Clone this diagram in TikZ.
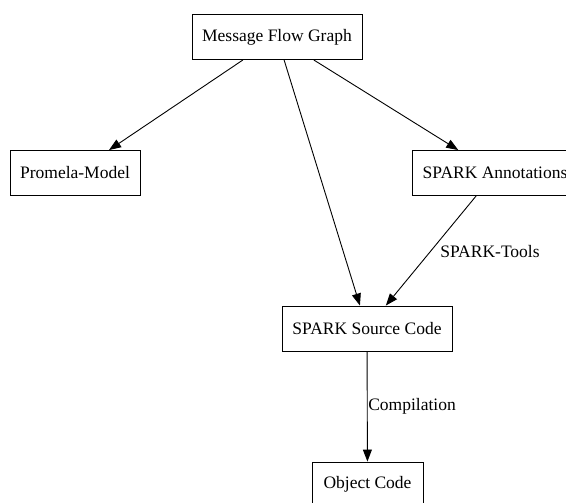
\documentclass[tikz,border=0pt]{standalone}
\usepackage{fontspec}
\setmainfont{Liberation Serif}
\usetikzlibrary{arrows.meta}
\begin{document}
\begin{tikzpicture}[x=1pt,y=-1pt,
  box/.style={draw,line width=0.9pt,inner sep=0pt,minimum height=45pt,font=\fontsize{17.5}{21}\selectfont},
  edge/.style={draw,line width=0.9pt,-{Triangle[length=12pt,width=9pt]}},
  lbl/.style={font=\fontsize{17.5}{21}\selectfont,inner sep=0pt}]
\useasboundingbox (0,0) rectangle (566,503);
\clip (0,0) rectangle (566,503);
\node[box,minimum width=170pt] (mfg) at (277,37) {Message Flow Graph};
\node[box,minimum width=130pt] (pm) at (75,173) {Promela-Model};
\node[box,minimum width=166pt] (sa) at (495,173) {SPARK Annotations};
\node[box,minimum width=170pt] (ssc) at (367,328.5) {SPARK Source Code};
\node[box,minimum width=111pt] (oc) at (367.5,484.5) {Object Code};
\draw[edge] (mfg) -- (pm);
\draw[edge] (mfg) -- (ssc);
\draw[edge] (mfg) -- (sa);
\draw[edge] (sa) -- (ssc);
\draw[edge] (ssc) -- (oc);
\node[lbl] (l1) at (490,252) {SPARK-Tools};
\node[lbl] (l2) at (412,406) {Compilation};
\end{tikzpicture}
\end{document}
